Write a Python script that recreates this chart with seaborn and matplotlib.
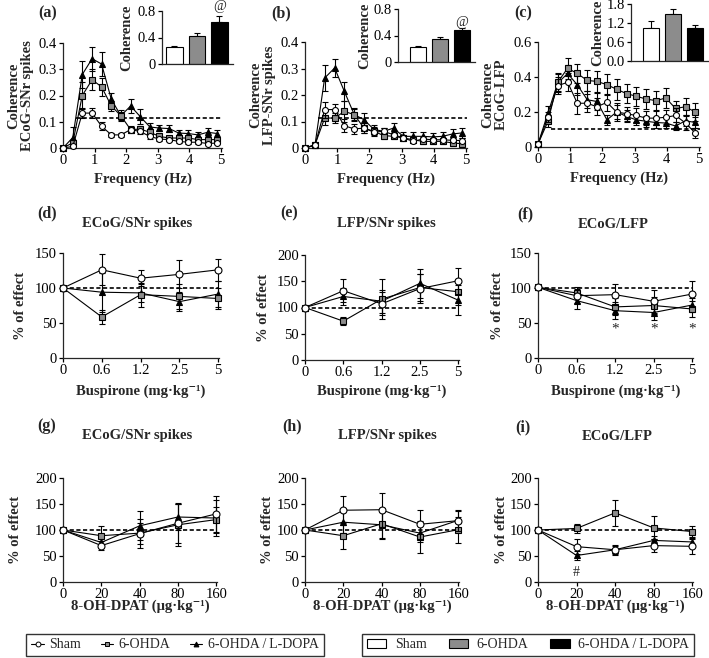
"""Coherence panels (a-c) and drug effect panels (d-i)."""

import matplotlib

matplotlib.use("Agg")
import matplotlib.pyplot as plt
import numpy as np
import seaborn as sns
from matplotlib.lines import Line2D
from matplotlib.patches import Patch

W, H = 709, 658
GRAY = "#8c8c8c"

GROUPS = ["Sham", "6-OHDA", "6-OHDA\u2009/\u2009L-DOPA"]
FREQ = [0, 0.31, 0.61, 0.92, 1.22, 1.53, 1.83, 2.14, 2.44, 2.75, 3.05, 3.36, 3.66, 3.97, 4.27, 4.58, 4.88]
BUSPIRONE = ["0", "0.6", "1.2", "2.5", "5"]
DPAT = ["0", "20", "40", "80", "160"]

# (a) ECoG-SNr spikes
a_sham = [0.0, 0.006, 0.133, 0.133, 0.083, 0.05, 0.05, 0.07, 0.063, 0.044, 0.034, 0.032, 0.025, 0.022, 0.022, 0.017, 0.019]
a_sham_err = [0.003, 0.005, 0.02, 0.02, 0.015, 0.008, 0.008, 0.01, 0.01, 0.008, 0.006, 0.006, 0.005, 0.005, 0.005, 0.005, 0.005]
a_ohda = [0.0, 0.02, 0.2, 0.26, 0.233, 0.16, 0.123, 0.07, 0.072, 0.06, 0.044, 0.038, 0.038, 0.038, 0.032, 0.032, 0.032]
a_ohda_err = [0.003, 0.01, 0.05, 0.04, 0.035, 0.02, 0.015, 0.012, 0.012, 0.01, 0.008, 0.008, 0.008, 0.008, 0.008, 0.008, 0.008]
a_ldopa = [0.0, 0.04, 0.28, 0.34, 0.32, 0.185, 0.123, 0.16, 0.12, 0.08, 0.076, 0.074, 0.057, 0.055, 0.05, 0.06, 0.055]
a_ldopa_err = [0.003, 0.04, 0.05, 0.045, 0.045, 0.025, 0.02, 0.025, 0.03, 0.015, 0.012, 0.012, 0.012, 0.012, 0.012, 0.015, 0.015]
a_bar = [0.25, 0.43, 0.64]
a_bar_err = [0.02, 0.04, 0.08]

# (b) LFP-SNr spikes
b_sham = [0.0, 0.01, 0.145, 0.145, 0.084, 0.072, 0.075, 0.06, 0.063, 0.05, 0.038, 0.025, 0.034, 0.031, 0.031, 0.029, 0.028]
b_sham_err = [0.003, 0.005, 0.03, 0.02, 0.025, 0.02, 0.02, 0.015, 0.012, 0.01, 0.008, 0.008, 0.008, 0.008, 0.008, 0.008, 0.008]
b_ohda = [0.0, 0.012, 0.113, 0.113, 0.138, 0.126, 0.075, 0.063, 0.047, 0.044, 0.038, 0.031, 0.025, 0.025, 0.025, 0.019, 0.016]
b_ohda_err = [0.003, 0.008, 0.025, 0.02, 0.04, 0.025, 0.02, 0.015, 0.012, 0.01, 0.01, 0.01, 0.01, 0.01, 0.01, 0.01, 0.01]
b_ldopa = [0.0, 0.012, 0.264, 0.302, 0.214, 0.126, 0.107, 0.07, 0.063, 0.075, 0.044, 0.044, 0.044, 0.042, 0.044, 0.053, 0.057]
b_ldopa_err = [0.003, 0.01, 0.05, 0.035, 0.035, 0.02, 0.025, 0.015, 0.012, 0.02, 0.015, 0.015, 0.015, 0.015, 0.015, 0.02, 0.02]
b_bar = [0.22, 0.34, 0.48]
b_bar_err = [0.02, 0.04, 0.04]

# (c) ECoG-LFP
c_sham = [0.017, 0.17, 0.35, 0.37, 0.25, 0.25, 0.23, 0.255, 0.2, 0.19, 0.18, 0.165, 0.165, 0.17, 0.18, 0.137, 0.08]
c_sham_err = [0.01, 0.03, 0.05, 0.05, 0.06, 0.05, 0.05, 0.05, 0.05, 0.04, 0.04, 0.04, 0.04, 0.04, 0.04, 0.04, 0.03]
c_ohda = [0.017, 0.147, 0.37, 0.45, 0.42, 0.38, 0.375, 0.356, 0.33, 0.305, 0.29, 0.274, 0.265, 0.28, 0.22, 0.23, 0.2]
c_ohda_err = [0.01, 0.03, 0.05, 0.06, 0.055, 0.06, 0.06, 0.06, 0.06, 0.055, 0.055, 0.055, 0.055, 0.055, 0.045, 0.05, 0.05]
c_ldopa = [0.017, 0.195, 0.365, 0.42, 0.355, 0.27, 0.26, 0.155, 0.2, 0.175, 0.155, 0.147, 0.14, 0.137, 0.12, 0.15, 0.14]
c_ldopa_err = [0.01, 0.04, 0.05, 0.05, 0.06, 0.05, 0.05, 0.03, 0.04, 0.035, 0.03, 0.03, 0.03, 0.03, 0.025, 0.03, 0.03]
c_bar = [1.03, 1.49, 1.03]
c_bar_err = [0.22, 0.15, 0.12]

# (d)-(f) buspirone, % of effect
d_sham = [100, 126, 114, 119.5, 126]
d_sham_err = [0, 22, 11, 20, 16]
d_ohda = [100, 58.6, 90.5, 88, 85]
d_ohda_err = [0, 10, 17, 18, 15]
d_ldopa = [100, 94, 93, 80.5, 91.4]
d_ldopa_err = [0, 28, 13, 14, 18]

e_sham = [100, 132, 107, 136, 151]
e_sham_err = [0, 22, 22, 28, 25]
e_ohda = [100, 74, 116, 138, 130]
e_ohda_err = [0, 8, 38, 25, 25]
e_ldopa = [100, 121, 112, 146, 114]
e_ldopa_err = [0, 17, 22, 28, 28]

f_sham = [101, 89, 90.5, 81, 91.4]
f_sham_err = [0, 10, 15, 16, 18]
f_ohda = [101, 93, 73, 75, 70]
f_ohda_err = [0, 8, 12, 12, 12]
f_ldopa = [101, 82, 67.6, 65, 75.7]
f_ldopa_err = [0, 12, 12, 10, 10]

# (g)-(i) 8-OH-DPAT, % of effect
g_sham = [100, 70, 93, 113, 131]
g_sham_err = [0, 8, 28, 38, 35]
g_ohda = [100, 89, 94, 110, 120]
g_ohda_err = [0, 18, 20, 40, 25]
g_ldopa = [100, 76, 108, 125, 123]
g_ldopa_err = [0, 10, 28, 25, 35]

h_sham = [100, 138, 139, 111, 118]
h_sham_err = [0, 28, 33, 28, 20]
h_ohda = [100, 89, 112, 86.5, 100.6]
h_ohda_err = [0, 25, 30, 30, 25]
h_ldopa = [100, 115, 110, 94, 118.6]
h_ldopa_err = [0, 20, 25, 18, 18]

i_sham = [100, 68, 62, 70, 68.6]
i_sham_err = [0, 15, 10, 12, 15]
i_ohda = [100, 103, 133, 104, 97]
i_ohda_err = [0, 8, 25, 22, 10]
i_ldopa = [100, 51, 62, 80, 77]
i_ldopa_err = [0, 8, 8, 8, 8]

sns.set_theme(style="ticks")
plt.rcParams["font.family"] = ["Liberation Serif", "DejaVu Serif"]
plt.rcParams["axes.linewidth"] = 0.9

MARKERS = [("o", "white", 4), ("s", GRAY, 3), ("^", "black", 2)]

fig = plt.figure(figsize=(W / 100, H / 100), dpi=100)


def add_ax(box):
    x0, x1, ytop, ybot = box
    ax = fig.add_axes([x0 / W, 1 - ybot / H, (x1 - x0) / W, (ybot - ytop) / H])
    ax.set_facecolor("none")
    sns.despine(ax=ax)
    ax.tick_params(direction="out", length=3, width=0.9, labelsize=10.5, pad=1.5, colors="black")
    return ax


def label_at(ax, box, ylabel_right=None, xlabel_top=None):
    x0, x1, ytop, ybot = box
    if ylabel_right is not None:
        ax.yaxis.set_label_coords((ylabel_right - x0) / (x1 - x0), 0.5)
    if xlabel_top is not None:
        ax.xaxis.set_label_coords(0.5, (ybot - xlabel_top) / (ybot - ytop))


def draw_series(ax, x, series, ms):
    for (vals, err), (mk, fc, z) in zip(series[::-1], MARKERS[::-1]):
        ax.errorbar(x, vals, yerr=err, fmt="none", ecolor="black", elinewidth=0.8,
                    capsize=2, capthick=0.8, clip_on=False, zorder=z)
        sns.lineplot(x=x, y=vals, ax=ax, color="black", linewidth=0.8, marker=mk,
                     markersize=ms, markerfacecolor=fc, markeredgecolor="black",
                     markeredgewidth=0.8, clip_on=False, zorder=z + 0.5)


def coherence_panel(box, series, ylabel, ylim, yticks, ytick_labels, ylabel_right):
    ax = add_ax(box)
    ax.plot([0.4, 5.05], [0.115 if ylim[1] < 0.5 else 0.1] * 2, ls=(0, (2.5, 1.5)), color="black", lw=1.2, zorder=1)
    draw_series(ax, FREQ, series, 4.3)
    ax.set_xlim(0, 5.03)
    ax.set_ylim(*ylim)
    ax.set_xticks(range(6))
    ax.set_yticks(yticks, ytick_labels)
    ax.set_xlabel("Frequency (Hz)", fontsize=10.5, fontweight="bold")
    ax.set_ylabel(ylabel, fontsize=10.5, fontweight="bold", linespacing=1.05)
    label_at(ax, box, ylabel_right, box[3] + 25)
    return ax


def inset_bars(box, vals, err, xlim, ylim, yticks, ytick_labels, ylabel_right, at_y=None):
    ax = add_ax(box)
    sns.barplot(x=GROUPS, y=vals, hue=GROUPS, palette=["white", GRAY, "black"], width=0.72,
                edgecolor="black", linewidth=0.8, legend=False, ax=ax, zorder=2)
    ax.errorbar(range(3), vals, yerr=[np.zeros(3), err], fmt="none", ecolor="black",
                elinewidth=0.8, capsize=2.5, capthick=0.8, zorder=1, clip_on=False)
    ax.set_xlim(*xlim)
    ax.set_ylim(*ylim)
    ax.set_xticks([])
    ax.set_yticks(yticks, ytick_labels)
    ax.set_xlabel("")
    ax.set_ylabel("Coherence", fontsize=10.5, fontweight="bold")
    label_at(ax, box, ylabel_right)
    if at_y is not None:
        ax.text(2, at_y, "@", ha="center", va="center", fontsize=10, clip_on=False)
    return ax


def effect_panel(box, doses, series, xlabel, ylim, xlabel_top, ylabel_right):
    ax = add_ax(box)
    pos = np.arange(len(doses))
    ax.plot([0, 4.05], [100, 100], ls=(0, (2.5, 1.5)), color="black", lw=1.2, zorder=1)
    draw_series(ax, pos, series, 5)
    ax.set_xlim(0, 4.02)
    ax.set_ylim(*ylim)
    ax.set_xticks(pos, doses)
    ax.set_yticks(np.arange(0, ylim[1] + 1, 50))
    ax.set_xlabel(xlabel, fontsize=10.5, fontweight="bold")
    ax.set_ylabel("% of effect", fontsize=10.5, fontweight="bold")
    label_at(ax, box, ylabel_right, xlabel_top)
    return ax


def fig_text(x, y, s, **kw):
    fig.text(x / W, 1 - y / H, s, ha="center", va="center", **kw)


# row 1
A_BOX, B_BOX, C_BOX = (63, 222, 43, 148), (305, 467, 42, 148), (538, 700, 42, 147)
coh_ticks = [0, 0.1, 0.2, 0.3, 0.4]
coh_labels = ["0", "0.1", "0.2", "0.3", "0.4"]
coherence_panel(A_BOX, [(a_sham, a_sham_err), (a_ohda, a_ohda_err), (a_ldopa, a_ldopa_err)],
                "Coherence\nECoG-SNr spikes", (0, 0.4), coh_ticks, coh_labels, 34)
coherence_panel(B_BOX, [(b_sham, b_sham_err), (b_ohda, b_ohda_err), (b_ldopa, b_ldopa_err)],
                "Coherence\nLFP-SNr spikes", (0, 0.4), coh_ticks, coh_labels, 276)
coherence_panel(C_BOX, [(c_sham, c_sham_err), (c_ohda, c_ohda_err), (c_ldopa, c_ldopa_err)],
                "Coherence\nECoG-LFP", (0, 0.6), [0, 0.2, 0.4, 0.6], ["0", "0.2", "0.4", "0.6"], 508)

inset_bars((162, 233, 11, 64), a_bar, a_bar_err, (-0.55, 2.6), (0, 0.8), [0, 0.4, 0.8], ["0", "0.4", "0.8"], 133, 0.87)
inset_bars((398, 475, 9, 62), b_bar, b_bar_err, (-0.9, 2.6), (0, 0.8), [0, 0.4, 0.8], ["0", "0.4", "0.8"], 371, 0.6)
inset_bars((631, 708, 4, 61), c_bar, c_bar_err, (-0.9, 2.6), (0, 1.8), [0, 0.6, 1.2, 1.8], ["0.0", "0.6", "1.2", "1.8"], 604)

# row 2
D_BOX, E_BOX, F_BOX = (63, 219, 253, 358), (305, 459, 255, 360), (538, 693, 253, 358)
bus_label = "Buspirone (mg\u00b7kg\u207b\u00b9)"
effect_panel(D_BOX, BUSPIRONE, [(d_sham, d_sham_err), (d_ohda, d_ohda_err), (d_ldopa, d_ldopa_err)],
             bus_label, (0, 150), 385, 27)
effect_panel(E_BOX, BUSPIRONE, [(e_sham, e_sham_err), (e_ohda, e_ohda_err), (e_ldopa, e_ldopa_err)],
             bus_label, (0, 200), 385, 270)
ax_f = effect_panel(F_BOX, BUSPIRONE, [(f_sham, f_sham_err), (f_ohda, f_ohda_err), (f_ldopa, f_ldopa_err)],
                    bus_label, (0, 150), 385, 504)
for p in [2, 3, 4]:
    ax_f.text(p, 42, "*", ha="center", va="center", fontsize=11)

# row 3
G_BOX, H_BOX, I_BOX = (63, 217, 478, 582), (305, 459, 478, 582), (538, 693, 478, 582)
dpat_label = "8-OH-DPAT (\u03bcg\u00b7kg\u207b\u00b9)"
effect_panel(G_BOX, DPAT, [(g_sham, g_sham_err), (g_ohda, g_ohda_err), (g_ldopa, g_ldopa_err)],
             dpat_label, (0, 200), 600, 22)
effect_panel(H_BOX, DPAT, [(h_sham, h_sham_err), (h_ohda, h_ohda_err), (h_ldopa, h_ldopa_err)],
             dpat_label, (0, 200), 600, 274)
ax_i = effect_panel(I_BOX, DPAT, [(i_sham, i_sham_err), (i_ohda, i_ohda_err), (i_ldopa, i_ldopa_err)],
                    dpat_label, (0, 200), 600, 508)
ax_i.text(1, 19, "#", ha="center", va="center", fontsize=10)

# panel letters and titles
for s, x, y in [("(a)", 48, 13), ("(b)", 281, 13), ("(c)", 523, 13),
                ("(d)", 47, 213), ("(e)", 289, 213), ("(f)", 525, 214),
                ("(g)", 47, 426), ("(h)", 292, 426), ("(i)", 523, 427)]:
    fig_text(x, y, s, fontsize=11.5, fontweight="bold")
for s, x, y in [("ECoG/SNr spikes", 137, 223), ("LFP/SNr spikes", 386, 223), ("ECoG/LFP", 613, 224),
                ("ECoG/SNr spikes", 137, 435), ("LFP/SNr spikes", 387, 435), ("ECoG/LFP", 617, 437)]:
    fig_text(x, y, s, fontsize=10.5, fontweight="bold")

# legends
line_handles = [Line2D([], [], color="black", lw=0.8, marker=mk, markersize=3.5, markerfacecolor=fc,
                       markeredgecolor="black", markeredgewidth=0.7) for mk, fc, _ in MARKERS]
leg1 = fig.legend(line_handles, GROUPS, loc="center", bbox_to_anchor=(175 / W, 1 - 645 / H), ncol=3,
                  frameon=True, fancybox=False, edgecolor="black", fontsize=10, handlelength=0.9,
                  handletextpad=0.4, columnspacing=1.4, borderpad=0.35)
leg1.get_frame().set_linewidth(1.0)
patch_handles = [Patch(facecolor=c, edgecolor="black", linewidth=0.8) for c in ["white", GRAY, "black"]]
leg2 = fig.legend(patch_handles, GROUPS, loc="center", bbox_to_anchor=(528 / W, 1 - 645 / H), ncol=3,
                  frameon=True, fancybox=False, edgecolor="black", fontsize=10, handlelength=1.4,
                  handleheight=0.6, handletextpad=0.6, columnspacing=1.6, borderpad=0.35)
leg2.get_frame().set_linewidth(1.0)

fig.savefig("out.png", dpi=100)
